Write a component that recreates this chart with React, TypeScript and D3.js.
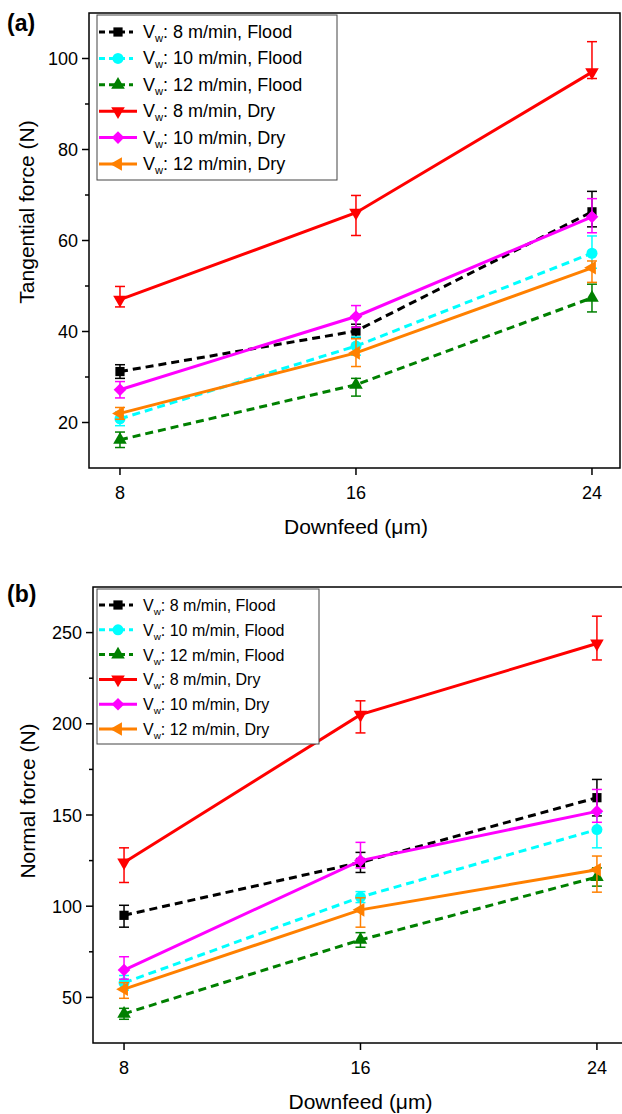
import React from "react";
import * as d3 from "d3";

// shared x values and series
const downfeed = [8, 16, 24];
const speeds = ["8", "10", "12", "8", "10", "12"];
const coolants = ["Flood", "Flood", "Flood", "Dry", "Dry", "Dry"];
const colors = ["#000000", "#00FFFF", "#008000", "#FF0000", "#FF00FF", "#FF8000"];
const dashed = [true, true, true, false, false, false];
const markers = ["square", "circle", "triangle", "down", "diamond", "left"];

// (a) tangential force
const tangential = [
  [31.2, 40.1, 66.3],
  [20.8, 36.8, 57.2],
  [16.2, 28.3, 47.4],
  [47.0, 66.1, 97.0],
  [27.2, 43.3, 65.2],
  [22.0, 35.3, 54.0],
];
const tangErrLow = [
  [1.5, 1.5, 3.3],
  [1.5, 2, 3.3],
  [1.7, 2.5, 3.1],
  [1.6, 5.0, 1.4],
  [1.8, 2.4, 3.5],
  [1.3, 3.0, 3.2],
];
const tangErrHigh = [
  [1.5, 1.5, 4.5],
  [1.5, 2, 3.8],
  [1.7, 1.4, 3.0],
  [2.9, 3.8, 6.7],
  [1.8, 2.4, 4.0],
  [1.3, 3.1, 1.5],
];

// (b) normal force
const normal = [
  [95, 124, 159.5],
  [58, 105, 142],
  [41, 81.5, 116],
  [124, 205, 244],
  [65, 125, 152],
  [54.5, 98, 120],
];
const normErrLow = [
  [6.5, 5.5, 10],
  [4, 3, 10],
  [3, 4, 5],
  [11, 10, 9],
  [5, 4, 6],
  [5, 9.5, 12.3],
];
const normErrHigh = [
  [5.5, 5.5, 10],
  [4, 3, 9],
  [3, 4, 5],
  [8, 7.6, 15],
  [7.3, 10, 12],
  [3.6, 6.6, 7.5],
];

const font = "'Liberation Sans', Arial, sans-serif";

function markerPath(kind: string) {
  if (kind === "square") return d3.symbol(d3.symbolSquare, 85)();
  if (kind === "circle") return d3.symbol(d3.symbolCircle, 95)();
  if (kind === "diamond") return d3.symbol(d3.symbolSquare, 80)();
  return d3.symbol(d3.symbolTriangle, 80)();
}
function markerRotate(kind: string) {
  if (kind === "down") return 180;
  if (kind === "left") return -90;
  if (kind === "diamond") return 45;
  return 0;
}

function Panel(props: any) {
  const { label, box, yDomain, yTicks, yMinor, yTitle, yTitlePos, means, errLow, errHigh, legend } = props;
  const x = d3.scaleLinear().domain([6.95, 24.95]).range([box.left, box.right]);
  const y = d3.scaleLinear().domain(yDomain).range([box.bottom, box.top]);
  const line = d3
    .line<number>()
    .x((d, i) => x(downfeed[i]))
    .y((d) => y(d));

  return (
    <g fontFamily={font}>
      <text x={7} y={label.y} fontSize={23} fontWeight="bold">
        {label.text}
      </text>
      {/* frame */}
      <rect x={box.left} y={box.top} width={box.right - box.left} height={box.bottom - box.top} fill="none" stroke="#000" strokeWidth={1.5} />
      {/* y ticks */}
      {yTicks.map((t: number) => (
        <g key={"y" + t}>
          <line x1={box.left - 7} x2={box.left} y1={y(t)} y2={y(t)} stroke="#000" strokeWidth={1.5} />
          <text x={box.left - 11} y={y(t) + 6.5} fontSize={18} textAnchor="end">
            {t}
          </text>
        </g>
      ))}
      {yMinor.map((t: number) => (
        <line key={"m" + t} x1={box.left - 4} x2={box.left} y1={y(t)} y2={y(t)} stroke="#000" strokeWidth={1.5} />
      ))}
      {/* x ticks */}
      {downfeed.map((t) => (
        <g key={"x" + t}>
          <line x1={x(t)} x2={x(t)} y1={box.bottom} y2={box.bottom + 7} stroke="#000" strokeWidth={1.5} />
          <text x={x(t)} y={box.bottom + 31} fontSize={18} textAnchor="middle">
            {t}
          </text>
        </g>
      ))}
      <text x={x(16)} y={box.bottom + 66} fontSize={21} textAnchor="middle">
        Downfeed (μm)
      </text>
      <text transform={`translate(${yTitlePos.x},${yTitlePos.y}) rotate(-90)`} fontSize={21} textAnchor="middle">
        {yTitle}
      </text>

      {/* series */}
      {means.map((vals: number[], s: number) => (
        <g key={"s" + s} stroke={colors[s]} fill={colors[s]}>
          {vals.map((v, i) => {
            const cx = x(downfeed[i]);
            const lo = y(v - errLow[s][i]);
            const hi = y(v + errHigh[s][i]);
            return (
              <g key={i} strokeWidth={1.5}>
                <line x1={cx} x2={cx} y1={lo} y2={hi} />
                <line x1={cx - 5} x2={cx + 5} y1={lo} y2={lo} />
                <line x1={cx - 5} x2={cx + 5} y1={hi} y2={hi} />
              </g>
            );
          })}
          <path d={line(vals) || ""} fill="none" strokeWidth={3} strokeDasharray={dashed[s] ? "8,5" : undefined} />
          {vals.map((v, i) => (
            <path
              key={"p" + i}
              d={markerPath(markers[s]) || ""}
              transform={`translate(${x(downfeed[i])},${y(v)}) rotate(${markerRotate(markers[s])})`}
              stroke="none"
            />
          ))}
        </g>
      ))}

      {/* legend */}
      <rect x={legend.x} y={legend.y} width={legend.w} height={legend.h} fill="#fff" stroke="#444" strokeWidth={1} />
      {speeds.map((sp, s) => {
        const ry = legend.y + legend.first + s * legend.step;
        const x0 = legend.x + 2;
        const x1 = dashed[s] ? legend.x + 36 : legend.x + 40;
        const mx = legend.x + 21;
        return (
          <g key={"l" + s}>
            <line x1={x0} x2={x1} y1={ry} y2={ry} stroke={colors[s]} strokeWidth={3} strokeDasharray={dashed[s] ? "6,4" : undefined} />
            <path d={markerPath(markers[s]) || ""} transform={`translate(${mx},${ry}) rotate(${markerRotate(markers[s])})`} fill={colors[s]} />
            <text x={legend.x + 46} y={ry + 6} fontSize={legend.fs}>
              V<tspan fontSize={legend.fs * 0.62} dy={4}>w</tspan>
              <tspan dy={-4}>: {sp} m/min, {coolants[s]}</tspan>
            </text>
          </g>
        );
      })}
    </g>
  );
}

export default function App() {
  return (
    <svg width={622} height={1114} style={{ position: "absolute", left: 0, top: 0, background: "#fff" }}>
      <Panel
        label={{ text: "(a)", y: 31 }}
        box={{ left: 89, right: 620, top: 13, bottom: 468 }}
        yDomain={[10, 110]}
        yTicks={[20, 40, 60, 80, 100]}
        yMinor={[30, 50, 70, 90]}
        yTitle="Tangential force (N)"
        yTitlePos={{ x: 34, y: 212 }}
        means={tangential}
        errLow={tangErrLow}
        errHigh={tangErrHigh}
        legend={{ x: 97, y: 15, w: 240, h: 165, first: 17, step: 26.4, fs: 18 }}
      />
      <Panel
        label={{ text: "(b)", y: 602 }}
        box={{ left: 93, right: 625, top: 587, bottom: 1043 }}
        yDomain={[25, 275]}
        yTicks={[50, 100, 150, 200, 250]}
        yMinor={[75, 125, 175, 225]}
        yTitle="Normal force (N)"
        yTitlePos={{ x: 35, y: 801 }}
        means={normal}
        errLow={normErrLow}
        errHigh={normErrHigh}
        legend={{ x: 97, y: 589, w: 222, h: 155, first: 16, step: 24.8, fs: 16 }}
      />
    </svg>
  );
}
